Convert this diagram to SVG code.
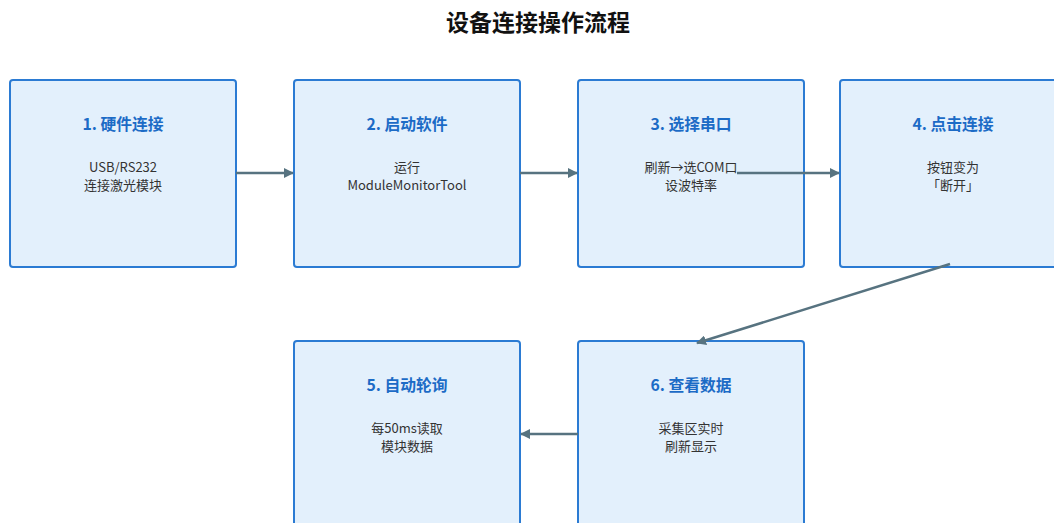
<svg xmlns="http://www.w3.org/2000/svg" width="1054" height="523" viewBox="0 0 1054 523">
<style>
.box{fill:#e3f0fc;stroke:#2b7bd3;stroke-width:2}
.t{font-family:"Noto Sans CJK SC","Noto Sans",sans-serif;font-weight:bold;font-size:15.8px;fill:#1c6bc6;text-anchor:middle}
.b{font-family:"Noto Sans CJK SC","Noto Sans",sans-serif;font-size:13px;fill:#333;text-anchor:middle}
.c{stroke:#577380;stroke-width:2.5;fill:none;marker-end:url(#ah)}
</style>
<defs>
<marker id="ah" viewBox="0 0 10 10" refX="9" refY="5" markerWidth="4" markerHeight="4" orient="auto" markerUnits="strokeWidth">
<path d="M0,0 L10,5 L0,10 z" fill="#577380"/>
</marker>
</defs>
<rect width="1054" height="523" fill="#ffffff"/>
<text x="538" y="31" font-family="'Noto Sans CJK SC',sans-serif" font-weight="bold" font-size="23" text-anchor="middle" fill="#111">设备连接操作流程</text>
<g id="n1"><rect class="box" x="10" y="80" width="226" height="187" rx="3"/><text class="t" x="123" y="130">1. 硬件连接</text><text class="b" x="123" y="172">USB/RS232</text><text class="b" x="123" y="190">连接激光模块</text></g>
<g id="n2"><rect class="box" x="294" y="80" width="226" height="187" rx="3"/><text class="t" x="407" y="130">2. 启动软件</text><text class="b" x="407" y="172">运行</text><text class="b" x="407" y="190">ModuleMonitorTool</text></g>
<g id="n3"><rect class="box" x="578" y="80" width="226" height="187" rx="3"/><text class="t" x="691" y="130">3. 选择串口</text><text class="b" x="691" y="172">刷新→选COM口</text><text class="b" x="691" y="190">设波特率</text></g>
<g id="n4"><rect class="box" x="840" y="80" width="226" height="187" rx="3"/><text class="t" x="953" y="130">4. 点击连接</text><text class="b" x="953" y="172">按钮变为</text><text class="b" x="953" y="190">「断开」</text></g>
<g id="n5"><rect class="box" x="294" y="341" width="226" height="187" rx="3"/><text class="t" x="407" y="391">5. 自动轮询</text><text class="b" x="407" y="433">每50ms读取</text><text class="b" x="407" y="451">模块数据</text></g>
<g id="n6"><rect class="box" x="578" y="341" width="226" height="187" rx="3"/><text class="t" x="691" y="391">6. 查看数据</text><text class="b" x="691" y="433">采集区实时</text><text class="b" x="691" y="451">刷新显示</text></g>
<g id="connectors">
<line class="c" x1="236" y1="173" x2="293" y2="173"/>
<line class="c" x1="520" y1="173" x2="577" y2="173"/>
<line class="c" x1="737" y1="173" x2="839" y2="173"/>
<line class="c" x1="950" y1="264" x2="697" y2="343"/>
<line class="c" x1="578" y1="434" x2="521" y2="434"/>
</g>
</svg>
